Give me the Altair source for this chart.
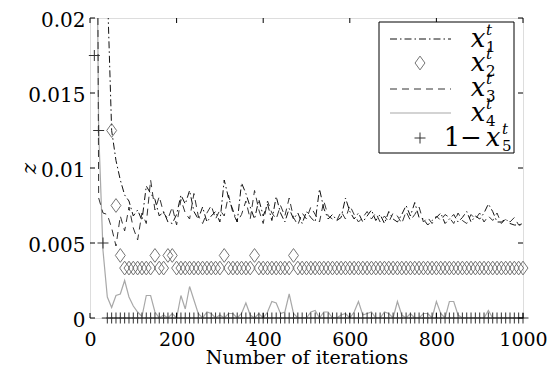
import altair as alt
import pandas as pd

iterations = list(range(10, 1001, 10))

x1 = [0.060, 0.045, 0.032, 0.022, 0.0125, 0.0105, 0.0092, 0.0082, 0.0078, 0.0068,
      0.0072, 0.0065, 0.0088, 0.0083, 0.0079, 0.0068, 0.0071, 0.0064, 0.0063, 0.0069,
      0.0082, 0.0076, 0.0085, 0.0071, 0.0066, 0.0074, 0.0064, 0.0068, 0.0071, 0.0064,
      0.0092, 0.0080, 0.0072, 0.0064, 0.0090, 0.0083, 0.0074, 0.0066, 0.0079, 0.0068,
      0.0076, 0.0065, 0.0081, 0.0070, 0.0064, 0.0073, 0.0066, 0.0070, 0.0063, 0.0071,
      0.0067, 0.0064, 0.0086, 0.0073, 0.0066, 0.0069, 0.0065, 0.0067, 0.0080, 0.0071,
      0.0066, 0.0070, 0.0064, 0.0068, 0.0072, 0.0065, 0.0069, 0.0063, 0.0071, 0.0066,
      0.0064, 0.0069, 0.0075, 0.0068, 0.0077, 0.0067, 0.0066, 0.0062, 0.0065, 0.0067,
      0.0070, 0.0063, 0.0066, 0.0069, 0.0064, 0.0067, 0.0071, 0.0064, 0.0068, 0.0066,
      0.0070, 0.0076, 0.0071, 0.0064, 0.0064, 0.0066, 0.0063, 0.0062, 0.0062, 0.0062]

x2 = [0.090, 0.060, 0.040, 0.025, 0.0125, 0.0075, 0.00417, 0.00333, 0.00333, 0.00333,
      0.00333, 0.00333, 0.00333, 0.00333, 0.00417, 0.00333, 0.00333, 0.00417, 0.00417, 0.00333,
      0.00333, 0.00333, 0.00333, 0.00333, 0.00333, 0.00333, 0.00333, 0.00333, 0.00333, 0.00333,
      0.00417, 0.00333, 0.00333, 0.00333, 0.00333, 0.00333, 0.00333, 0.00417, 0.00333, 0.00333,
      0.00333, 0.00333, 0.00333, 0.00333, 0.00333, 0.00333, 0.00417, 0.00333, 0.00333, 0.00333,
      0.00333, 0.00333, 0.00333, 0.00333, 0.00333, 0.00333, 0.00333, 0.00333, 0.00333, 0.00333,
      0.00333, 0.00333, 0.00333, 0.00333, 0.00333, 0.00333, 0.00333, 0.00333, 0.00333, 0.00333,
      0.00333, 0.00333, 0.00333, 0.00333, 0.00333, 0.00333, 0.00333, 0.00333, 0.00333, 0.00333,
      0.00333, 0.00333, 0.00333, 0.00333, 0.00333, 0.00333, 0.00333, 0.00333, 0.00333, 0.00333,
      0.00333, 0.00333, 0.00333, 0.00333, 0.00333, 0.00333, 0.00333, 0.00333, 0.00333, 0.00333]

x3 = [0.080, 0.0080, 0.0070, 0.0069, 0.0060, 0.0048, 0.0068, 0.0058, 0.0074, 0.0060,
      0.0052, 0.0070, 0.0063, 0.0092, 0.0072, 0.0081, 0.0070, 0.0066, 0.0074, 0.0062,
      0.0079, 0.0070, 0.0066, 0.0083, 0.0068, 0.0063, 0.0070, 0.0075, 0.0066, 0.0072,
      0.0068, 0.0082, 0.0070, 0.0064, 0.0069, 0.0078, 0.0066, 0.0085, 0.0072, 0.0063,
      0.0078, 0.0070, 0.0066, 0.0075, 0.0068, 0.0080, 0.0067, 0.0062, 0.0070, 0.0066,
      0.0074, 0.0069, 0.0064, 0.0078, 0.0068, 0.0066, 0.0065, 0.0071, 0.0066, 0.0075,
      0.0069, 0.0064, 0.0067, 0.0071, 0.0066, 0.0070, 0.0064, 0.0068, 0.0064, 0.0070,
      0.0068, 0.0063, 0.0071, 0.0065, 0.0069, 0.0074, 0.0064, 0.0067, 0.0063, 0.0068,
      0.0065, 0.0069, 0.0067, 0.0063, 0.0070, 0.0065, 0.0063, 0.0069, 0.0066, 0.0070,
      0.0064, 0.0068, 0.0065, 0.0070, 0.0063, 0.0066, 0.0064, 0.0067, 0.0062, 0.0063]

x4 = [0.045, 0.0125, 0.0045, 0.0014, 0.0007, 0.0015, 0.0016, 0.0025, 0.0014, 0.0008,
      0.0004, 0.0001, 0.0015, 0.0015, 0.0004, 0.0, 0.0002, 0.0, 0.0003, 0.0,
      0.0015, 0.0006, 0.0021, 0.0012, 0.0003, 0.0, 0.0004, 0.0003, 0.0, 0.0002,
      0.0, 0.0003, 0.0003, 0.0, 0.0003, 0.0010, 0.0002, 0.0, 0.0003, 0.0,
      0.0004, 0.0011, 0.0010, 0.0003, 0.0004, 0.0016, 0.0003, 0.0, 0.0, 0.0,
      0.0004, 0.0005, 0.0, 0.0004, 0.0004, 0.0, 0.0, 0.0002, 0.0003, 0.0,
      0.0004, 0.0011, 0.0002, 0.0003, 0.0004, 0.0, 0.0, 0.0004, 0.0003, 0.0,
      0.0011, 0.0002, 0.0, 0.0003, 0.0, 0.0, 0.0003, 0.0003, 0.0, 0.0011,
      0.0003, 0.0, 0.0011, 0.0011, 0.0002, 0.0, 0.0, 0.0, 0.0, 0.0,
      0.0, 0.0005, 0.0, 0.0, 0.0, 0.0, 0.0, 0.0, 0.0, 0.0]

one_minus_x5 = [0.0175, 0.0125, 0.005] + [0.0] * 97

x_ticks = [0, 200, 400, 600, 800, 1000]
y_ticks = [0, 0.005, 0.01, 0.015, 0.02]

legend_labels = ["x", "x", "x", "x", "1 \u2212 x"]
legend_subs = ["1", "2", "3", "4", "5"]
legend_sup = "t"

SERIF = "DejaVu Serif"
W, H = 433, 300

df = pd.DataFrame({"it": iterations, "x1": x1, "x2": x2, "x3": x3,
                   "x4": x4, "x5": one_minus_x5})
xt = pd.DataFrame({"v": x_ticks})
yt = pd.DataFrame({"v": y_ticks})
one = pd.DataFrame({"k": [0]})

xscale = alt.Scale(domain=[0, 1000], nice=False, zero=False)
yscale = alt.Scale(domain=[0, 0.02], nice=False, zero=False)

XAXIS = alt.Axis(values=x_ticks, format="d", grid=False, domain=False,
                 ticks=False, tickSize=0, labelPadding=12,
                 labelFont=SERIF, labelFontSize=19, labelColor="black",
                 titleFont=SERIF, titleFontSize=19, titleFontWeight="normal",
                 titleColor="black", titleBaseline="alphabetic",
                 titleY=45, labelFlush=False)
YAXIS = alt.Axis(values=y_ticks, format="~g", grid=False, domain=False,
                 ticks=False, tickSize=0, labelPadding=5, labelOffset=2,
                 labelFont=SERIF, labelFontSize=20, labelColor="black",
                 titleFont=SERIF, titleFontSize=21, titleFontWeight="normal",
                 titleFontStyle="italic", titleColor="black",
                 titleX=-61, titleY=150, titleAngle=-90,
                 titleAlign="center", titleBaseline="middle",
                 labelFlush=False)


def X(field):
    return alt.X(field, type="quantitative", scale=xscale,
                 title="Number of iterations", axis=XAXIS)


def Y(field):
    return alt.Y(field, type="quantitative", scale=yscale, title="z", axis=YAXIS)


base = alt.Chart(df)

l4 = base.mark_line(clip=True, color="#a8a8a8", strokeWidth=1.2).encode(
    x=X("it"), y=Y("x4"))
l3 = base.mark_line(clip=True, color="#333333", strokeWidth=1, strokeDash=[7, 5]).encode(
    x=X("it"), y=Y("x3"))
l1 = base.mark_line(clip=True, color="#111111", strokeWidth=1, strokeDash=[7, 3, 1.5, 3]).encode(
    x=X("it"), y=Y("x1"))

DIAMOND = "M0,-1L0.72,0L0,1L-0.72,0Z"
PLUS = "M-1,0L1,0M0,-1L0,1"

p2 = base.transform_filter("datum.x2 <= 0.02").mark_point(
    shape=DIAMOND, size=190, filled=False, color="#747474", strokeWidth=1, opacity=1).encode(
    x=X("it"), y=Y("x2"))
p5 = base.mark_point(shape=PLUS, size=121, filled=False, color="#333333",
                     strokeWidth=1, opacity=1).encode(x=X("it"), y=Y("x5"))

tick_len = 5
tb = alt.Chart(xt).mark_rule(color="black", strokeWidth=1).encode(
    x=X("v"), y=alt.value(H), y2=alt.value(H - tick_len))
tt = alt.Chart(xt).mark_rule(color="black", strokeWidth=1).encode(
    x=X("v"), y=alt.value(0), y2=alt.value(tick_len))
tl = alt.Chart(yt).mark_rule(color="black", strokeWidth=1).encode(
    y=Y("v"), x=alt.value(0), x2=alt.value(tick_len))
tr = alt.Chart(yt).mark_rule(color="black", strokeWidth=1).encode(
    y=Y("v"), x=alt.value(W), x2=alt.value(W - tick_len))

leg_box = alt.Chart(one).mark_rect(fill="white", stroke="black", strokeWidth=1).encode(
    x=alt.value(289), x2=alt.value(424), y=alt.value(4), y2=alt.value(135))

rows = [22, 46, 71, 96, 121]
sx0, sx1, sxc = 300, 361, 330

leg_l1 = alt.Chart(one).mark_rule(color="#111111", strokeWidth=1, strokeDash=[7, 3, 1.5, 3]).encode(
    x=alt.value(sx0), x2=alt.value(sx1), y=alt.value(rows[0] - 1))
leg_p2 = alt.Chart(one).mark_point(shape=DIAMOND, size=190, filled=False, color="#747474",
                                   strokeWidth=1, opacity=1).encode(
    x=alt.value(sxc), y=alt.value(rows[1] - 1))
leg_l3 = alt.Chart(one).mark_rule(color="#333333", strokeWidth=1, strokeDash=[7, 5]).encode(
    x=alt.value(sx0), x2=alt.value(sx1), y=alt.value(rows[2]))
leg_l4 = alt.Chart(one).mark_rule(color="#a8a8a8", strokeWidth=1.2).encode(
    x=alt.value(sx0), x2=alt.value(sx1), y=alt.value(rows[3] - 1))
leg_p5 = alt.Chart(one).mark_point(shape=PLUS, size=121, filled=False, color="#333333",
                                   strokeWidth=1, opacity=1).encode(
    x=alt.value(sxc), y=alt.value(rows[4] - 1))


def txt(s, x, y, size, style="normal", align="center"):
    return alt.Chart(one).mark_text(text=s, font=SERIF, fontSize=size, fontStyle=style,
                                    align=align, baseline="alphabetic", color="black").encode(
        x=alt.value(x), y=alt.value(y))


leg_texts = []
for i in range(4):
    r = rows[i]
    leg_texts.append(txt(legend_labels[i], 388, r + 7, 26, "italic"))
    leg_texts.append(txt(legend_sup, 396, r - 5, 15, "italic", "left"))
    leg_texts.append(txt(legend_subs[i], 396, r + 12, 15, "normal", "left"))
r = rows[4]
leg_texts.append(txt("1", 362, r + 7, 26))
leg_texts.append(txt("\u2212", 381, r + 7, 26))
leg_texts.append(txt("x", 403, r + 7, 26, "italic"))
leg_texts.append(txt(legend_sup, 412, r - 5, 15, "italic", "left"))
leg_texts.append(txt(legend_subs[4], 412, r + 12, 15, "normal", "left"))

chart = alt.layer(
    l4, l3, l1, p2, p5, tb, tt, tl, tr,
    leg_box, leg_l1, leg_p2, leg_l3, leg_l4, leg_p5, *leg_texts
).properties(
    width=W, height=H,
    autosize=alt.AutoSizeParams(type="none"),
    padding={"left": 82, "top": 10, "right": 24, "bottom": 50},
).configure_view(
    stroke="black", strokeWidth=1
).configure(background="white")

chart.save("out.html", embed_options={"renderer": "svg", "actions": False})
